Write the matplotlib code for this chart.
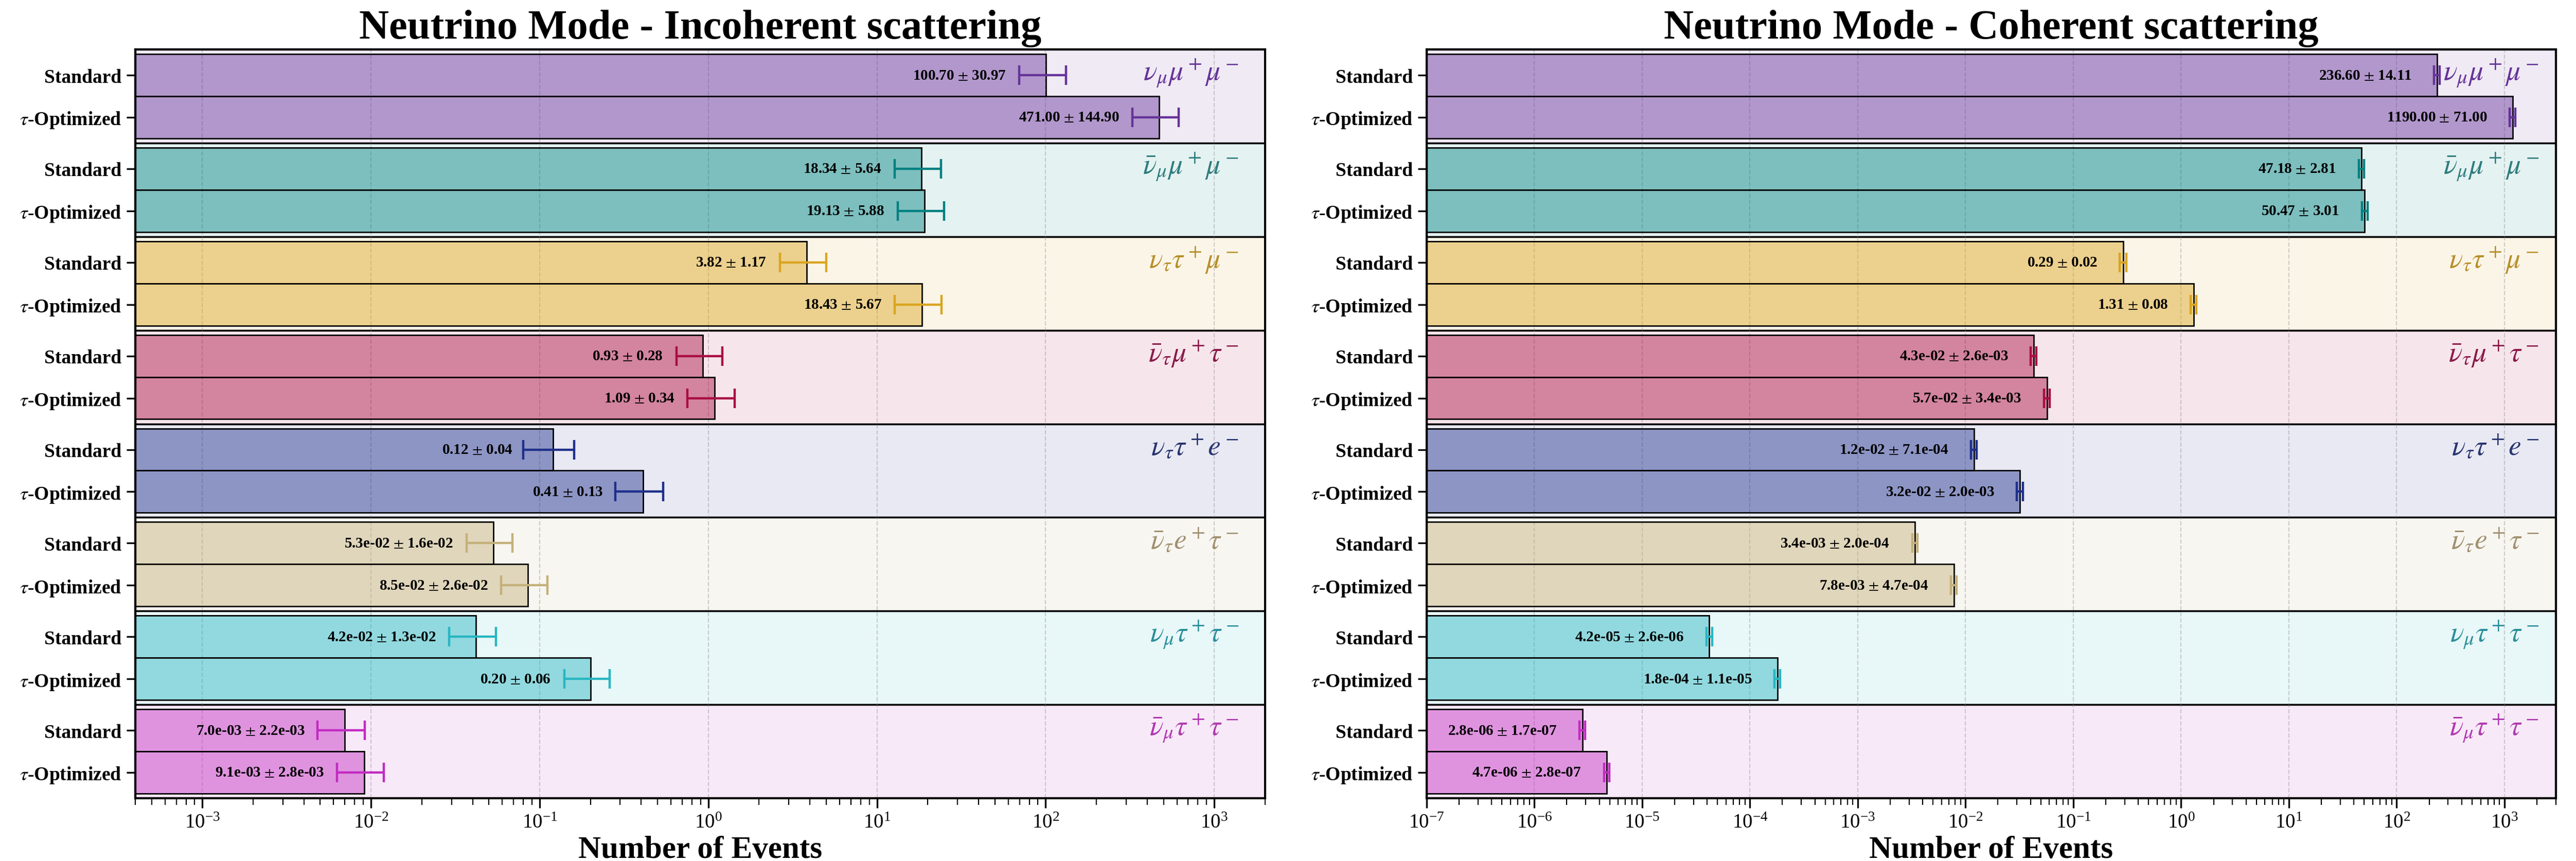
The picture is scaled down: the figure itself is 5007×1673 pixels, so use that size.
import matplotlib.pyplot as plt
import numpy as np
from matplotlib.colors import to_rgba
from matplotlib.ticker import LogLocator, NullFormatter

plt.rcParams["font.family"] = ["Liberation Serif", "DejaVu Serif"]
plt.rcParams["mathtext.fontset"] = "stix"

processes = [r"$\nu_\mu\mu^+\mu^-$", r"$\bar{\nu}_\mu\mu^+\mu^-$", r"$\nu_\tau\tau^+\mu^-$",
             r"$\bar{\nu}_\tau\mu^+\tau^-$", r"$\nu_\tau\tau^+e^-$", r"$\bar{\nu}_\tau e^+\tau^-$",
             r"$\nu_\mu\tau^+\tau^-$", r"$\bar{\nu}_\mu\tau^+\tau^-$"]
configs = ["Standard", r"$\tau$-Optimized"]

# main colour per process (bars, error bars) and a darker one for the labels
colors = ["#663399", "#008080", "#DAA520", "#AA0D43", "#1E2F8B", "#C4B07A", "#27B6C2", "#C22BC2"]
label_colors = ["#663399", "#2E7D7D", "#B8902A", "#8B1A4B", "#2A3570", "#A09070", "#2B8F9A", "#B03AB0"]

# incoherent scattering, events per configuration
incoh_std = [100.70, 18.34, 3.82, 0.93, 0.12, 5.3e-02, 4.2e-02, 7.0e-03]
incoh_std_err = [30.97, 5.64, 1.17, 0.28, 0.04, 1.6e-02, 1.3e-02, 2.2e-03]
incoh_opt = [471.00, 19.13, 18.43, 1.09, 0.41, 8.5e-02, 0.20, 9.1e-03]
incoh_opt_err = [144.90, 5.88, 5.67, 0.34, 0.13, 2.6e-02, 0.06, 2.8e-03]

# coherent scattering
coh_std = [236.60, 47.18, 0.29, 4.3e-02, 1.2e-02, 3.4e-03, 4.2e-05, 2.8e-06]
coh_std_err = [14.11, 2.81, 0.02, 2.6e-03, 7.1e-04, 2.0e-04, 2.6e-06, 1.7e-07]
coh_opt = [1190.00, 50.47, 1.31, 5.7e-02, 3.2e-02, 7.8e-03, 1.8e-04, 4.7e-06]
coh_opt_err = [71.00, 3.01, 0.08, 3.4e-03, 2.0e-03, 4.7e-04, 1.1e-05, 2.8e-07]

BAR_H = 0.45


def fmt_events(val, err):
    if val >= 0.1:
        return f"{val:.2f} $\\pm$ {err:.2f}"
    return f"{val:.1e} $\\pm$ {err:.1e}"


def draw_panel(ax, std, std_err, opt, opt_err, xlim, title):
    ax.set_xscale("log")
    yticks, ylabels = [], []
    for g, proc in enumerate(processes):
        col = colors[g]
        ax.axhspan(g - 0.5, g + 0.5, facecolor=to_rgba(col, 0.1), edgecolor="black",
                   linewidth=1.2, zorder=0)
        pairs = [(std[g], std_err[g]), (opt[g], opt_err[g])]
        for k, (val, err) in enumerate(pairs):
            y = g + (k - 0.5) * BAR_H
            ax.barh(y, val, height=BAR_H, facecolor=to_rgba(col, 0.45), edgecolor="black",
                    linewidth=1.0, zorder=2)
            ax.errorbar(val, y, xerr=err, fmt="none", ecolor=col, elinewidth=1.6,
                        capsize=7, capthick=1.6, zorder=3)
            ax.text(val * 0.58, y, fmt_events(val, err), ha="right", va="center",
                    fontsize=10.5, fontweight="bold", zorder=4)
            yticks.append(y)
            ylabels.append(configs[k])
        ax.text(xlim[1] * 0.7, g - 0.25, proc, ha="right", va="center", fontsize=20,
                color=label_colors[g], zorder=4)

    # one labelled tick per decade inside the range
    lo, hi = np.ceil(np.log10(xlim[0])), np.floor(np.log10(xlim[1]))
    ax.set_xticks(10.0 ** np.arange(lo, hi + 1))
    ax.xaxis.set_minor_locator(LogLocator(base=10, subs=np.arange(2, 10), numticks=20))
    ax.xaxis.set_minor_formatter(NullFormatter())
    ax.set_xlim(*xlim)
    ax.set_ylim(len(processes) - 0.5, -0.5)
    ax.set_yticks(yticks)
    ax.set_yticklabels(ylabels, fontsize=13.5, fontweight="bold")
    ax.grid(True, axis="x", which="major", linestyle="--", color="gray", alpha=0.35, linewidth=0.8)
    ax.tick_params(axis="x", which="major", length=7, width=1.2, labelsize=14)
    ax.tick_params(axis="x", which="minor", length=4.5, width=0.8)
    ax.tick_params(axis="y", which="major", length=6, width=1.2)
    for sp in ax.spines.values():
        sp.set_linewidth(1.5)
    ax.set_title(title, fontsize=29, fontweight="bold", pad=8)
    ax.set_xlabel("Number of Events", fontsize=22, fontweight="bold", labelpad=2)


fig = plt.figure(figsize=(25.035, 8.37), dpi=200)
ax1 = fig.add_axes([0.0525, 0.0729, 0.4386, 0.8691])
ax2 = fig.add_axes([0.5538, 0.0729, 0.4384, 0.8691])

draw_panel(ax1, incoh_std, incoh_std_err, incoh_opt, incoh_opt_err, (4e-4, 2e3),
           "Neutrino Mode - Incoherent scattering")
draw_panel(ax2, coh_std, coh_std_err, coh_opt, coh_opt_err, (1e-7, 3e3),
           "Neutrino Mode - Coherent scattering")

fig.savefig("out.png", dpi=200)
plt.close(fig)
